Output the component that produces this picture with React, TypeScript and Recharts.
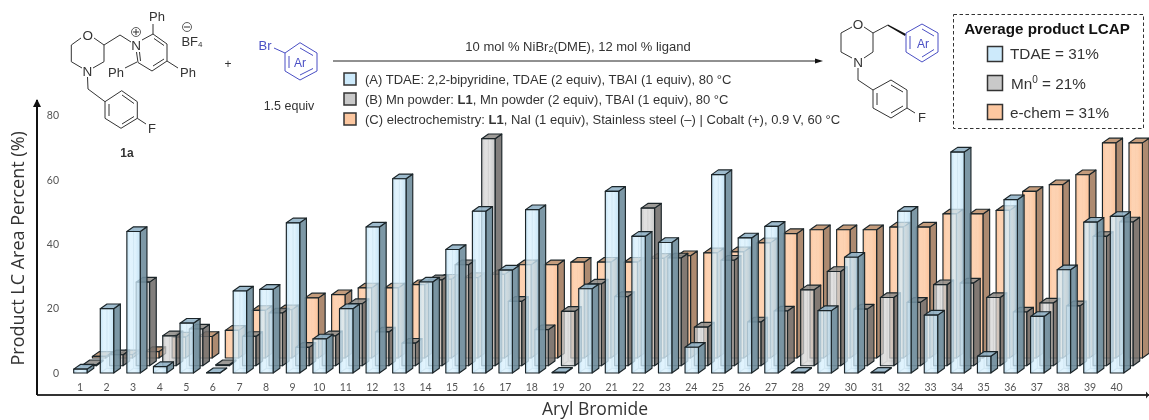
import React from 'react';
import { BarChart, Bar, XAxis, YAxis } from 'recharts';

const categories = Array.from({ length: 40 }, (_, i) => String(i + 1));
const yTicks = [0, 20, 40, 60, 80];

const tdae = [
  1.2, 20, 44, 2, 15.5, 0.1, 25.5, 26, 46.7, 10.6, 20, 45.4, 60.4, 28.3, 38.4, 50.3, 32, 50.8, 0.2, 26.2,
  56.5, 42.5, 40.6, 8, 61.7, 42, 45.6, 0.2, 19.4, 36, 0.2, 50.3, 18, 68.7, 5.2, 53.9, 17.6, 32.1, 46.9, 48.7,
];
const mn = [
  0.3, 3.4, 26, 9.3, 11.4, 0.3, 9.1, 16.4, 5.7, 9.3, 19.3, 10.5, 7, 26.7, 31.4, 70.6, 20, 11.2, 16.9, 25.4,
  21.5, 49, 33.5, 12, 32.8, 13.6, 17, 23.6, 29.3, 17.6, 21.2, 19.7, 25.2, 25.7, 21.2, 16.7, 19.5, 18.6, 40.2, 44.7,
];
const echem = [
  0.5, 1, 2, 6.5, 6.7, 8.6, 14.8, 15, 18.7, 19.7, 21.8, 21.8, 22.8, 24.5, 25, 26, 29, 29, 29.8, 29.8,
  29.8, 31, 31.8, 32.7, 33, 35.8, 38.7, 39.9, 39.9, 39.9, 40.7, 40.7, 44.8, 44.8, 45.9, 51.8, 53.9, 57, 66.9, 66.9,
];

const chartData = categories.map((name, i) => ({ name, tdae: tdae[i], mn: mn[i], echem: echem[i] }));

const BLUE = { front: 'url(#gBlue)', side: '#6f8d9c', top: '#93b4c8', ghost: '#6f8f9f', swatch: '#cdeafb' };
const GRAY = { front: 'url(#gGray)', side: '#6f6c6a', top: '#8f8c89', ghost: '#888', swatch: '#c9c9c9' };
const ORANGE = { front: 'url(#gOrange)', side: '#ad8a70', top: '#c49c7c', ghost: '#b08c72', swatch: '#fcc7a0' };

// one 3d box, (dx, dy) moves the series back along the depth axis
function Box3D(props: any) {
  const { x, y, width, height, look, dx, dy, alpha } = props;
  const sx = 6.7;
  const sy = 4.7;
  const l = x + dx;
  const r = l + width;
  const t = y + dy;
  const b = t + Math.max(height, 0);
  const stroke = '#1b2529';
  return (
    <g strokeWidth={1.15} stroke={stroke} strokeLinejoin="round">
      <path
        d={`M${l + sx} ${b - sy}H${r + sx}M${l + sx} ${b - sy}V${t - sy}M${l + sx} ${b - sy}L${l} ${b}`}
        stroke={look.ghost}
        strokeOpacity={0.45}
        fill="none"
      />
      <polygon
        points={`${r},${t} ${r + sx},${t - sy} ${r + sx},${b - sy} ${r},${b}`}
        fill={look.side}
        fillOpacity={alpha + 0.12}
      />
      <polygon
        points={`${l},${t} ${l + sx},${t - sy} ${r + sx},${t - sy} ${r},${t}`}
        fill={look.top}
        fillOpacity={alpha + 0.12}
      />
      <rect x={l} y={t} width={width} height={Math.max(height, 0)} fill={look.front} fillOpacity={alpha} />
    </g>
  );
}

const Mono = ({ d, c = '#333' }: { d: string; c?: string }) => <path d={d} fill="none" stroke={c} strokeWidth={1} />;

function Label({ x, y, children, size = 13, c = '#333', w, a = 'middle' }: any) {
  return (
    <text x={x} y={y} fontSize={size} fill={c} fontWeight={w} textAnchor={a} dominantBaseline="central" fontFamily="Liberation Sans">
      {children}
    </text>
  );
}

function Swatch({ x, y, s, fill }: any) {
  return <rect x={x} y={y} width={s} height={s} fill={fill} stroke="#333" strokeWidth={1.5} />;
}

// the reaction scheme, the conditions key and the averages box above the chart
function Scheme() {
  const BLUEINK = '#4a4fc4';
  return (
    <svg width={1149} height={420} style={{ position: 'absolute', left: 0, top: 0 }}>
      {/* axis arrow heads */}
      <polygon points="37,99 33,107 41,107" fill="#111" />
      <polygon points="1149,395 1146,391.5 1146,398.5" fill="#222" />
      {/* substrate 1a */}
      <Mono d="M81 38L71.3 45V61.7L82 68M93 68L104 61.7V45L94 38M104 45L120 35L131 42" />
      <Label x={87.7} y={35} size={13.5}>O</Label>
      <Label x={87.3} y={71.7} size={13.5}>N</Label>
      <Label x={136} y={45} size={13.5}>N</Label>
      <circle cx={136} cy={32} r={4.5} fill="none" stroke="#333" strokeWidth={0.8} />
      <Mono d="M133 32H139M136 29V35" />
      <Mono d="M142 40L153 34L167 44V61L152 71L138 62.5L136.5 52M139.5 52L140.5 61M153 34V24M154 38.5L164 45.5M164 59L153 66M167 61L178 68M137 62L125 68" />
      <Label x={157} y={16}>Ph</Label>
      <Label x={188} y={72}>Ph</Label>
      <Label x={116} y={72}>Ph</Label>
      <Label x={192} y={41}>BF<tspan fontSize={8} dy={3}>4</tspan></Label>
      <circle cx={187} cy={27} r={4.5} fill="none" stroke="#333" strokeWidth={0.8} />
      <Mono d="M184 27H190" />
      <Mono d="M87.5 77L88 89L105 101.7L121.7 90.7L137.3 101.7V118.3L121 128.3L105 118.3V101.7M109 104V116M122 95L134 103.5M122 124L134 116.5M137.3 118.3L146 124" />
      <Label x={152} y={128}>F</Label>
      <Label x={127} y={153} size={12} w="bold">1a</Label>
      <Label x={228} y={64} size={12}>+</Label>
      {/* aryl bromide */}
      <Label x={265} y={45} size={13} c={BLUEINK}>Br</Label>
      <Mono c={BLUEINK} d="M274 48L285 53L300 42.7L317 53V71L300 80L285 71V53M289 56V68M300 48L313 55.5M300 75L313 68.5" />
      <Label x={300} y={63} size={12} c={BLUEINK}>Ar</Label>
      <Label x={289} y={106} size={12.5}>1.5 equiv</Label>
      {/* conditions */}
      <Label x={578} y={46}>
        10 mol % NiBr<tspan fontSize={9} dy={3}>2</tspan><tspan dy={-3}>(DME), 12 mol % ligand</tspan>
      </Label>
      <path d="M333 61H817" stroke="#222" strokeWidth={1} />
      <polygon points="823,61 815,58.5 815,63.5" fill="#111" />
      <Swatch x={344} y={73} s={12} fill={BLUE.swatch} />
      <Swatch x={344} y={93} s={12} fill={GRAY.swatch} />
      <Swatch x={344} y={113} s={12} fill={ORANGE.swatch} />
      <Label x={365} y={79} a="start">(A) TDAE: 2,2-bipyridine, TDAE (2 equiv), TBAI (1 equiv), 80 °C</Label>
      <Label x={365} y={99} a="start">
        (B) Mn powder: <tspan fontWeight="bold">L1</tspan>, Mn powder (2 equiv), TBAI (1 equiv), 80 °C
      </Label>
      <Label x={365} y={119} a="start">
        (C) electrochemistry: <tspan fontWeight="bold">L1</tspan>, NaI (1 equiv), Stainless steel (–) | Cobalt (+), 0.9 V, 60 °C
      </Label>
      {/* product */}
      <Mono d="M852 27L841 33V52L852 58M864 58L873 52V33L864 27M873 33L888 25" />
      <polygon points="888,24.5 906,34 905,36 888,26" fill="#111" />
      <Label x={858} y={24} size={13.5}>O</Label>
      <Label x={858} y={62} size={13.5}>N</Label>
      <Mono c={BLUEINK} d="M906 33L922 24L938 33V52L922 62L906 52V33M910 36V49M922 29L934 36M922 57L934 49.5" />
      <Label x={923} y={44} size={12} c={BLUEINK}>Ar</Label>
      <Mono d="M858 68V80L873 90L891 80L907 90V108L891 118L873 108V90M877 93V105M891 85L903 92M891 113L903 106M907 108L915 113" />
      <Label x={922} y={117}>F</Label>
      {/* averages box */}
      <rect x={953.5} y={14.5} width={190} height={114} fill="#fff" stroke="#333" strokeWidth={1} strokeDasharray="3.5 2.5" />
      <Label x={1047} y={28} size={15.2} w="bold" c="#111">Average product LCAP</Label>
      <Swatch x={987.5} y={46.5} s={15} fill={BLUE.swatch} />
      <Swatch x={987.5} y={75.5} s={15} fill={GRAY.swatch} />
      <Swatch x={987.5} y={104.5} s={15} fill={ORANGE.swatch} />
      <Label x={1010} y={53} size={15.3} a="start">TDAE = 31%</Label>
      <Label x={1011} y={83} size={15.3} a="start">Mn<tspan fontSize={10} dy={-4}>0</tspan><tspan dy={4}> = 21%</tspan></Label>
      <Label x={1010} y={112} size={15.3} a="start">e-chem = 31%</Label>
    </svg>
  );
}

const stripe = (id: string, edge: string, mid: string) => (
  <linearGradient id={id} x1="0" x2="1" y1="0" y2="0">
    <stop offset="0" stopColor={edge} />
    <stop offset="0.25" stopColor={mid} />
    <stop offset="0.6" stopColor={mid} />
    <stop offset="1" stopColor={edge} />
  </linearGradient>
);

export default function App() {
  return (
    <div style={{ position: 'absolute', left: 0, top: 0, width: 1149, height: 420, background: '#fff', overflow: 'hidden', filter: 'blur(0.35px)' }}>
      <BarChart
        width={1149}
        height={420}
        data={chartData}
        margin={{ top: 100, right: 0, bottom: 0, left: 0 }}
        barSize={13.4}
        barGap={-13.4}
      >
        <defs>
          {stripe('gBlue', '#b6dcf2', '#d8f0fd')}
          {stripe('gGray', '#b5b5b5', '#d6d6d6')}
          {stripe('gOrange', '#fbc197', '#fdd0ae')}
        </defs>
        <XAxis
          dataKey="name"
          height={25}
          interval={0}
          padding={{ left: 29.7, right: 19.1 }}
          axisLine={{ stroke: '#333', strokeWidth: 2 }}
          tickLine={false}
          tick={{ fontSize: 10.5, fill: '#555', fontFamily: 'Lato', dy: -17 }}
          tickMargin={0}
          label={{ value: 'Aryl Bromide', position: 'insideBottom', offset: 5, fontSize: 17.5, fill: '#333', fontFamily: 'Open Sans', dx: 2 }}
        />
        <YAxis
          width={37}
          domain={[-6.84, 84.9]}
          ticks={yTicks}
          axisLine={{ stroke: '#111', strokeWidth: 2 }}
          tickLine={false}
          tick={{ fontSize: 10.5, fill: '#555', fontFamily: 'Lato', dx: 30 }}
          label={{ value: 'Product LC Area Percent (%)', angle: -90, position: 'insideLeft', offset: 18, dy: 118, fontSize: 18, fill: '#333', fontFamily: 'Open Sans' }}
        />
        <Bar dataKey="echem" isAnimationActive={false} shape={(p: any) => <Box3D {...p} look={ORANGE} dx={18.7} dy={-15} alpha={0.95} />} />
        <Bar dataKey="mn" isAnimationActive={false} shape={(p: any) => <Box3D {...p} look={GRAY} dx={9.3} dy={-7.3} alpha={0.75} />} />
        <Bar dataKey="tdae" isAnimationActive={false} shape={(p: any) => <Box3D {...p} look={BLUE} dx={0} dy={0} alpha={0.78} />} />
      </BarChart>
      <Scheme />
    </div>
  );
}
